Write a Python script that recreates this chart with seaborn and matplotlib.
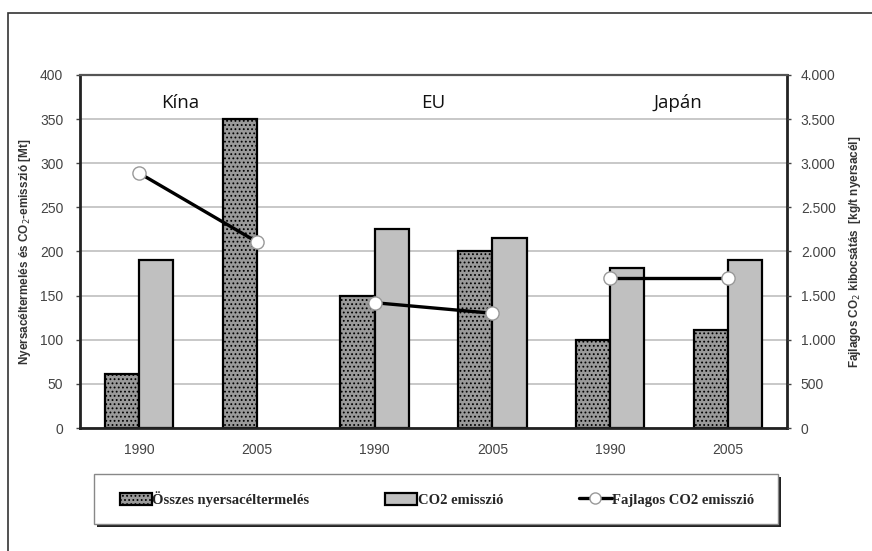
import numpy as np
import pandas as pd
import seaborn as sns
import matplotlib.pyplot as plt
from matplotlib.lines import Line2D
from matplotlib.patches import Patch, Rectangle
from matplotlib.ticker import FuncFormatter

sns.set_theme(style='white')
plt.rcParams['font.family'] = ['Liberation Sans', 'DejaVu Sans']
plt.rcParams['hatch.color'] = '#333333'
plt.rcParams['hatch.linewidth'] = 0.8

# data
regions = ['Kína', 'Kína', 'EU', 'EU', 'Japán', 'Japán']
years = ['1990', '2005', '1990', '2005', '1990', '2005']
production = [61, 350, 150, 200, 100, 111]        # Mt
co2 = [190, np.nan, 225, 215, 181, 190]            # Mt
specific = [2890, 2110, 1420, 1300, 1700, 1700]    # kg/t

prod_name = 'Összes nyersacéltermelés'
co2_name = 'CO2 emisszió'
spec_name = 'Fajlagos CO2 emisszió'

cats = [f'{r} {y}' for r, y in zip(regions, years)]
df = pd.DataFrame({'cat': cats * 2,
                   'value': production + co2,
                   'series': [prod_name] * 6 + [co2_name] * 6})
df_line = pd.DataFrame({'pos': np.arange(len(cats)), 'region': regions, 'specific': specific})

fig = plt.figure(figsize=(8.72, 5.51), dpi=100)
ax = fig.add_axes([80 / 872, 123 / 551, 707 / 872, 353 / 551])

sns.barplot(ax=ax, data=df, x='cat', y='value', hue='series', order=cats,
            palette=['#9a9a9a', '#c0c0c0'], width=0.58, edgecolor='black',
            linewidth=1.6, legend=False)
for bar in ax.containers[0]:
    bar.set_hatch('....')

ax.set_ylim(0, 400)
ax.set_yticks(np.arange(0, 401, 50))
ax.set_xticks(range(len(cats)))
ax.set_xticklabels(years)
ax.set_xlim(-0.5, len(cats) - 0.5)
ax.yaxis.grid(True, color='#c4c4c4', linewidth=1.3)
ax.set_axisbelow(True)
ax.set_xlabel('')
ax.set_ylabel('Nyersacéltermelés és CO$_2$-emisszió [Mt]', fontsize=8.5,
              fontweight='bold', color='#333333', labelpad=5)
ax.tick_params(axis='y', labelsize=10, colors='#444444', length=3, pad=9, left=True,
               width=1)
ax.tick_params(axis='x', labelsize=10, colors='#444444', length=0, pad=11)
for s in ['left', 'bottom']:
    ax.spines[s].set_color('#222222')
    ax.spines[s].set_linewidth(2)
ax.spines['top'].set_color('#555555')
ax.spines['top'].set_linewidth(1.6)
ax.spines['right'].set_color('#222222')
ax.spines['right'].set_linewidth(2)

ax2 = ax.twinx()
sns.lineplot(ax=ax2, data=df_line, x='pos', y='specific', units='region',
             estimator=None, color='black', linewidth=2.4, marker='o',
             markersize=9.5, markerfacecolor='white', markeredgecolor='#999999',
             markeredgewidth=1)
ax2.set_ylim(0, 4000)
ax2.set_yticks(np.arange(0, 4001, 500))
ax2.yaxis.set_major_formatter(FuncFormatter(lambda v, p: f'{int(v):,}'.replace(',', '.')))
ax2.set_ylabel('Fajlagos CO$_2$ kibocsátás  [kg/t nyersacél]', fontsize=8.5,
               fontweight='bold', color='#333333', labelpad=8)
ax2.set_xlabel('')
ax2.tick_params(axis='y', labelsize=10, colors='#444444', length=3, pad=7, width=1)
for s in ax2.spines.values():
    s.set_visible(False)
ax2.set_xlim(-0.5, len(cats) - 0.5)

# region names
for name, xpos in [('Kína', 0.35), ('EU', 2.5), ('Japán', 4.57)]:
    ax.text(xpos, 368, name, ha='center', va='center', fontsize=13.5,
            family=['Open Sans', 'DejaVu Sans'], color='#111111')

# legend box with shadow
px = lambda x, y, w, h: (x / 872, 1 - (y + h) / 551, w / 872, h / 551)
x0, y0, w0, h0 = px(94, 474, 684, 50)
fig.patches.append(Rectangle((x0 + 3 / 872, y0 - 3 / 551), w0, h0, transform=fig.transFigure,
                             facecolor='#222222', edgecolor='none', zorder=1))
fig.patches.append(Rectangle((x0, y0), w0, h0, transform=fig.transFigure,
                             facecolor='white', edgecolor='#888888', linewidth=1, zorder=2))

handles = [Patch(facecolor='#9a9a9a', edgecolor='black', hatch='....', linewidth=1.6,
                 label=prod_name),
           Patch(facecolor='#c0c0c0', edgecolor='black', linewidth=1.6, label=co2_name),
           Line2D([], [], color='black', linewidth=2.4, marker='o', markersize=8,
                  markerfacecolor='white', markeredgecolor='#999999', label=spec_name)]
leg = fig.legend(handles=handles, loc='center', ncol=3,
                 bbox_to_anchor=(437 / 872, 1 - 499 / 551),
                 frameon=False, columnspacing=5.2,
                 prop={'family': 'Liberation Serif', 'weight': 'bold', 'size': 10.5},
                 handlelength=2.2, handleheight=0.95, handletextpad=0.05)
leg.set_zorder(3)

# outer frame
fig.patches.append(Rectangle((8 / 872, -0.1), 1.2, (551 - 13) / 551 + 0.1,
                             transform=fig.transFigure, fill=False,
                             edgecolor='#333333', linewidth=1.2))

fig.savefig('out.png', dpi=100)
